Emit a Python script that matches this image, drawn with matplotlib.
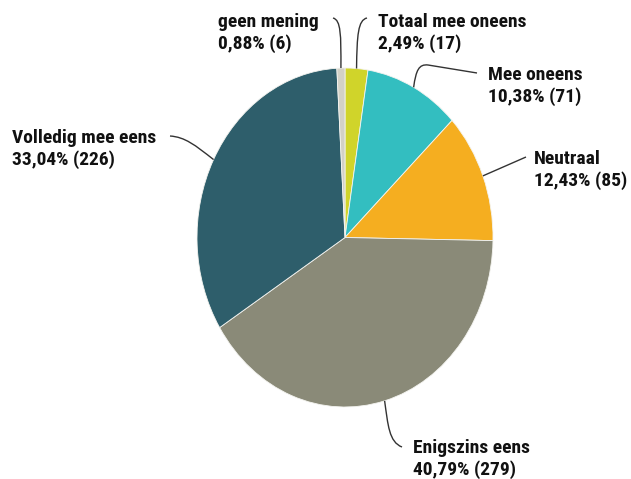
import numpy as np
import matplotlib
matplotlib.use("Agg")
import matplotlib.pyplot as plt
from matplotlib.path import Path
from matplotlib.patches import PathPatch

categories = ["Totaal mee oneens", "Mee oneens", "Neutraal", "Enigszins eens",
              "Volledig mee eens", "geen mening"]
counts = [17, 71, 85, 279, 226, 6]
percent_labels = ["2,49%", "10,38%", "12,43%", "40,79%", "33,04%", "0,88%"]
colors = ["#D0D42A", "#33BEC0", "#F5AE20", "#8A8A78", "#2E5E6B", "#D3D1C6"]

W, H = 631, 479
fig = plt.figure(figsize=(W / 100, H / 100), dpi=100)
fig.patch.set_facecolor("white")

pl, pr, pt, pb = 197, 493, 68, 407
ax_pie = fig.add_axes([pl / W, 1 - pb / H, (pr - pl) / W, (pb - pt) / H])
wedges, _ = ax_pie.pie(counts, colors=colors, startangle=90, counterclock=False,
                       radius=1, wedgeprops=dict(edgecolor="#f4f4f0", linewidth=0.6))
ax_pie.set_aspect("auto")
ax_pie.set_xlim(-1, 1)
ax_pie.set_ylim(-1, 1)
ax_pie.axis("off")

ov = fig.add_axes([0, 0, 1, 1], zorder=5)
ov.set_xlim(0, W)
ov.set_ylim(H, 0)
ov.axis("off")

# label layout: text x, first baseline, leader path (after the wedge-edge start)
C = Path.CURVE4
L = Path.LINETO
layout = {
    "geen mening": (218, 27, [(341, 35), (341, 20), (333, 18)], [C, C, C]),
    "Totaal mee oneens": (378, 27, [(357, 35), (358, 20), (367, 18)], [C, C, C]),
    "Mee oneens": (488, 80, [(416, 70), (419, 64), (428, 65), (477, 73)], [C, C, C, L]),
    "Neutraal": (534, 164, [(526, 157)], [L]),
    "Enigszins eens": (413, 453, [(388, 425), (389, 442), (402, 447)], [C, C, C]),
    "Volledig mee eens": (12, 143, [(195, 145), (185, 137), (170, 136)], [C, C, C]),
}

font = dict(fontsize=14.0, fontweight="bold", family=["Roboto Condensed", "DejaVu Sans"],
            fontstretch="condensed", color="#111111")

for w, cat, c, p in zip(wedges, categories, counts, percent_labels):
    mid = np.deg2rad((w.theta1 + w.theta2) / 2)
    disp = ax_pie.transData.transform((np.cos(mid), np.sin(mid)))
    ex, ey = ov.transData.inverted().transform(disp)
    tx, by, pts, codes = layout[cat]
    path = Path([(ex, ey)] + pts, [Path.MOVETO] + codes)
    ov.add_patch(PathPatch(path, facecolor="none", edgecolor="#333333", lw=1.0))
    ov.text(tx, by, cat, ha="left", va="baseline", **font)
    ov.text(tx, by + 22, f"{p} ({c})", ha="left", va="baseline", **font)

fig.savefig("out.png", dpi=100, facecolor="white")
